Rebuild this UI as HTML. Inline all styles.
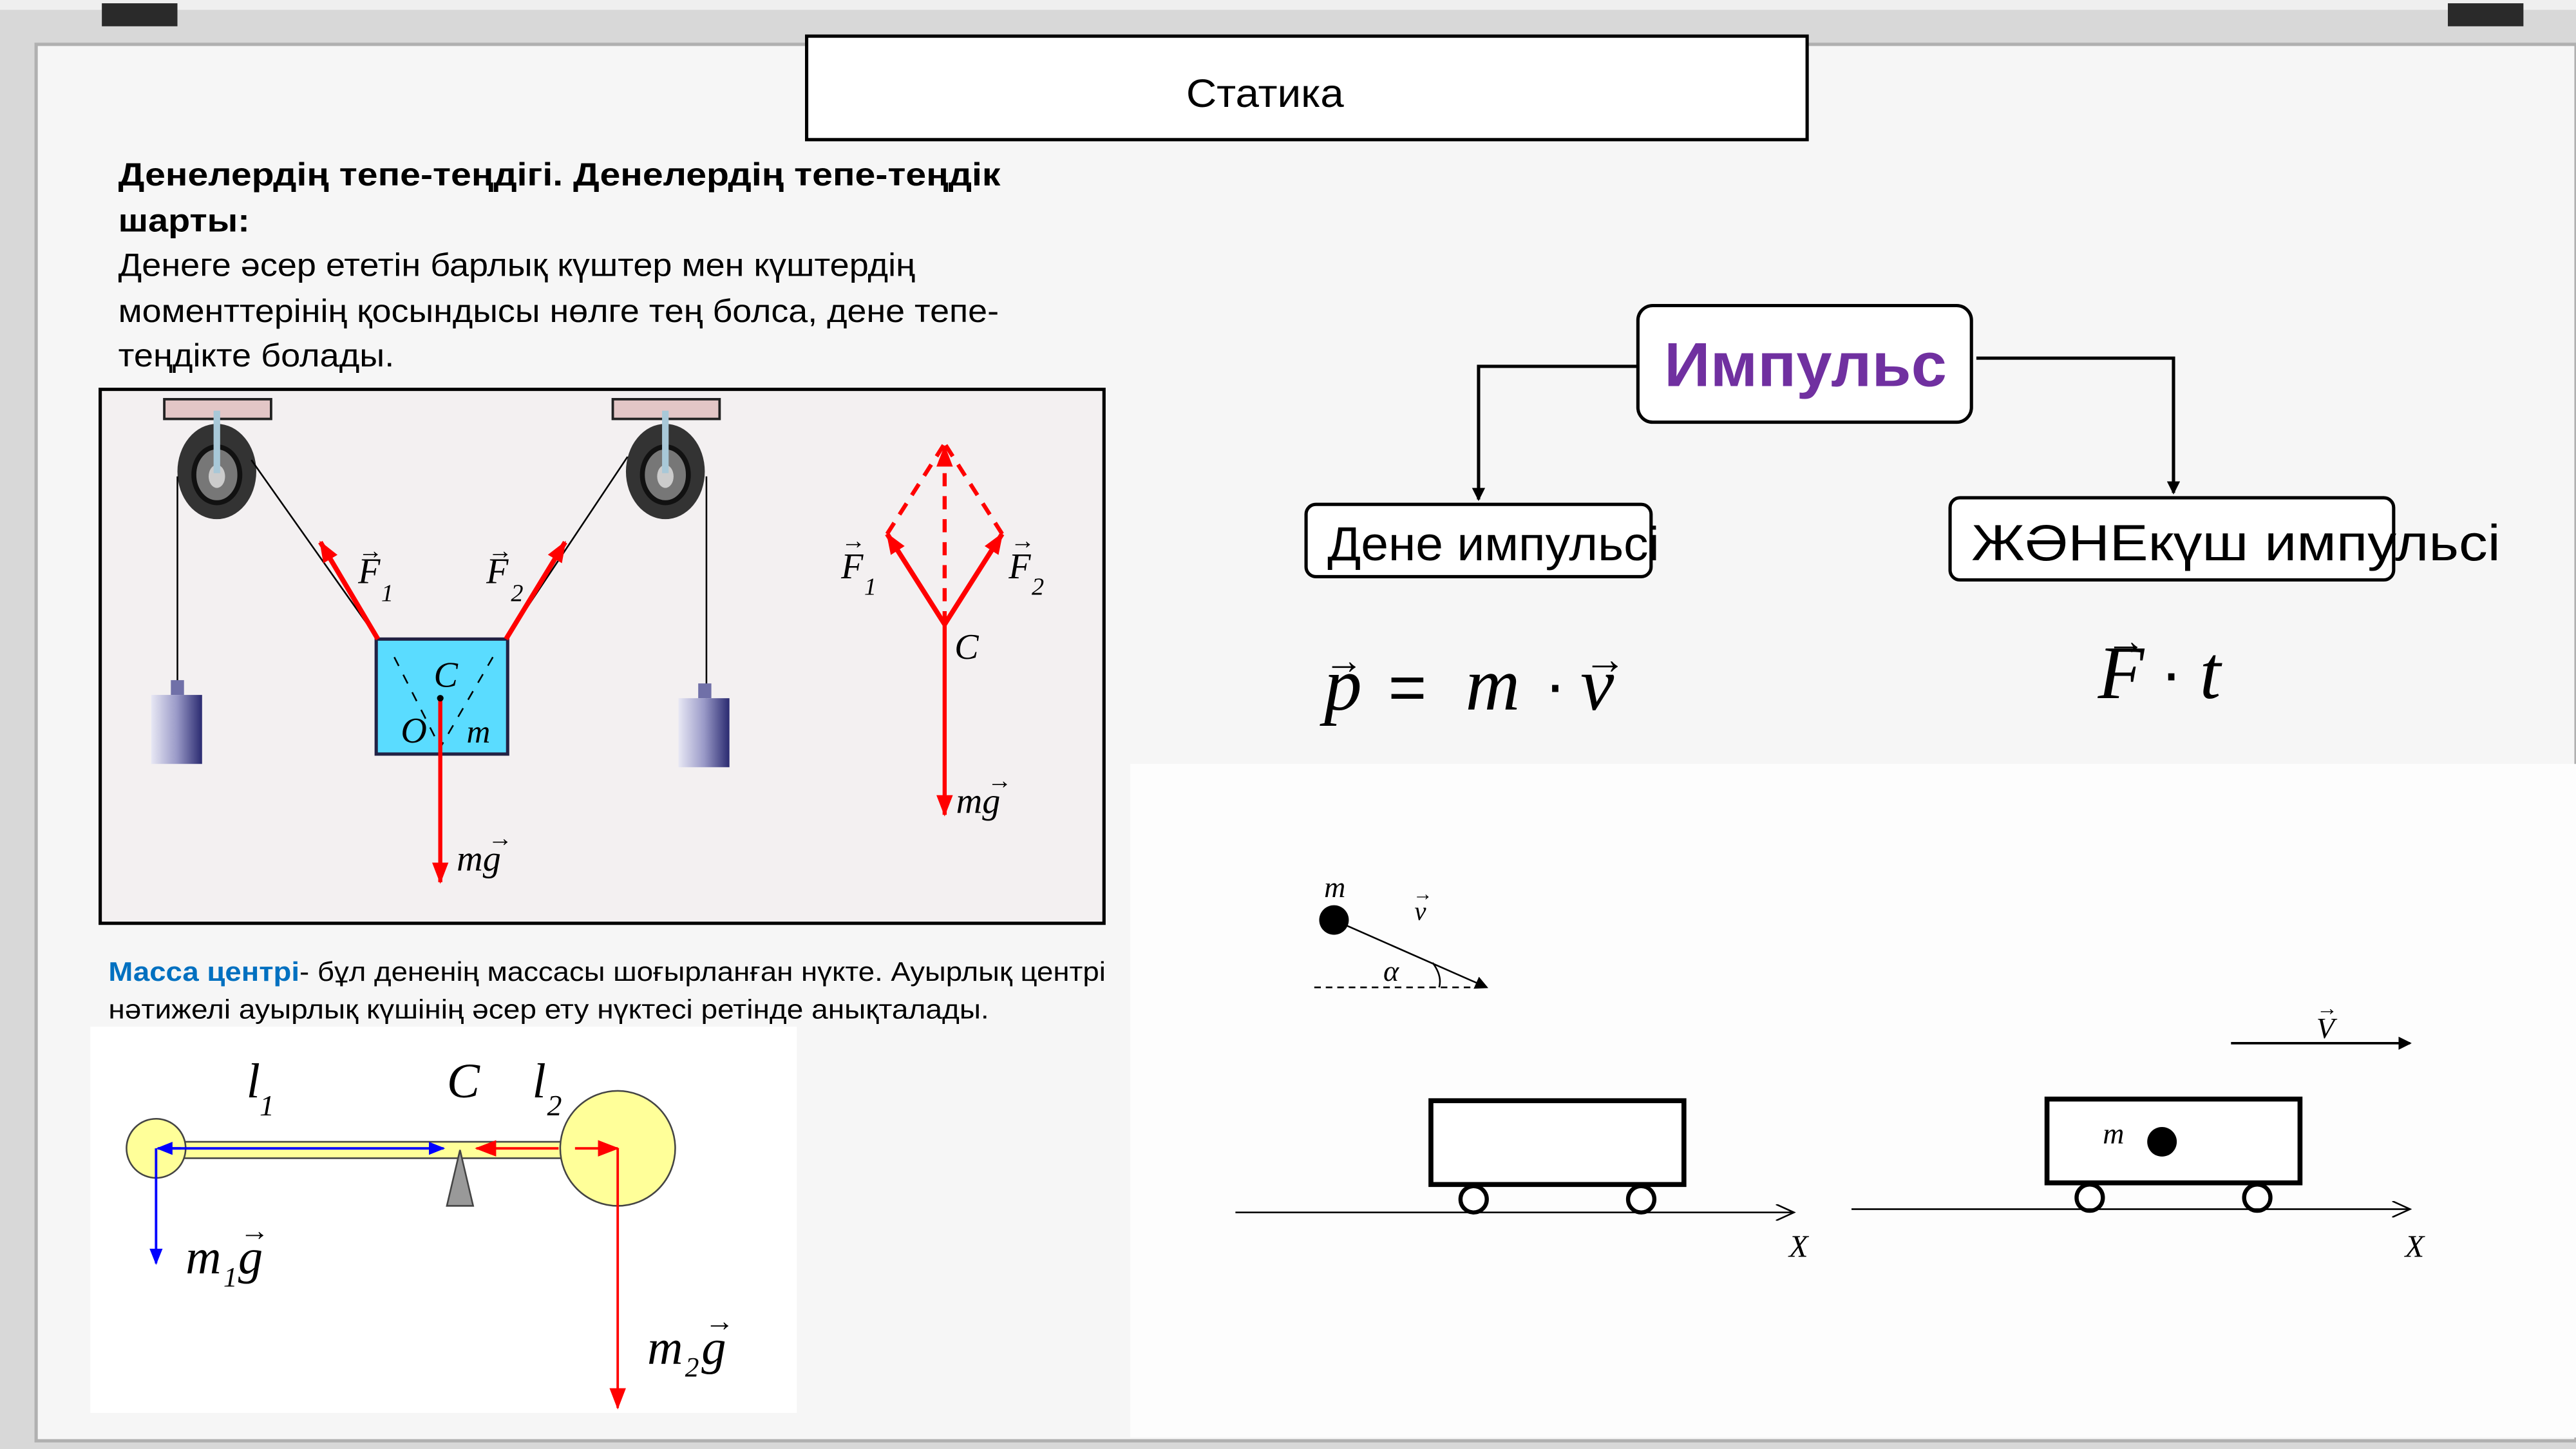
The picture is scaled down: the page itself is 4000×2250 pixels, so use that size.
<!DOCTYPE html>
<html><head><meta charset="utf-8">
<style>
html,body{margin:0;padding:0;background:#e6e6e6;}
svg{display:block;}
text{font-family:"Liberation Sans","DejaVu Sans",sans-serif;}
.it{font-family:"Liberation Serif","DejaVu Serif",serif;font-style:italic;}
</style></head><body>
<svg width="4000" height="2250" viewBox="0 0 1568 882" preserveAspectRatio="none" xmlns="http://www.w3.org/2000/svg">
<defs>
<marker id="ar" markerWidth="8" markerHeight="8" refX="7" refY="4" orient="auto" markerUnits="userSpaceOnUse"><path d="M0,0 L8,4 L0,8 z" fill="#000"/></marker>
<marker id="arr" markerWidth="14" markerHeight="14" refX="12" refY="7" orient="auto" markerUnits="userSpaceOnUse"><path d="M0,2 L13,7 L0,12 z" fill="#f00"/></marker>
<marker id="arb" markerWidth="10" markerHeight="10" refX="9" refY="5" orient="auto" markerUnits="userSpaceOnUse"><path d="M0,1 L10,5 L0,9 z" fill="#00f"/></marker>
<marker id="aro" markerWidth="12" markerHeight="10" refX="11" refY="5" orient="auto" markerUnits="userSpaceOnUse"><path d="M0,0 L11,5 L0,10" fill="none" stroke="#000" stroke-width="1"/></marker>
<linearGradient id="wt" x1="0" x2="1"><stop offset="0" stop-color="#e8e8f4"/><stop offset="0.5" stop-color="#9a9ac8"/><stop offset="1" stop-color="#2a2a70"/></linearGradient>
</defs>
<rect x="0" y="0" width="1568" height="882" fill="#d8d8d8"/>
<rect x="0" y="0" width="1568" height="6" fill="#efefef"/>
<rect x="62" y="2" width="46" height="14" fill="#2a2a2a"/>
<rect x="1490" y="2" width="46" height="14" fill="#2a2a2a"/>
<rect x="22" y="27" width="1546" height="850" fill="#f6f6f6" stroke="#b0b0b0" stroke-width="2"/>
<rect x="688" y="465" width="880" height="410" fill="#fdfdfd"/>
<rect x="55" y="625" width="430" height="235" fill="#ffffff"/>
<rect x="491" y="22" width="609" height="63" fill="#fff" stroke="#000" stroke-width="2"/>
<text x="722" y="65" font-size="24" textLength="96" lengthAdjust="spacingAndGlyphs">Статика</text>
<g font-size="19.5">
<text x="72" y="113" font-weight="bold" textLength="537" lengthAdjust="spacingAndGlyphs">Денелердің тепе-теңдігі. Денелердің тепе-теңдік</text>
<text x="72" y="141" font-weight="bold" textLength="80" lengthAdjust="spacingAndGlyphs">шарты:</text>
<text x="72" y="168" textLength="485" lengthAdjust="spacingAndGlyphs">Денеге әсер ететін барлық күштер мен күштердің</text>
<text x="72" y="196" textLength="536" lengthAdjust="spacingAndGlyphs">моменттерінің қосындысы нөлге тең болса, дене тепе-</text>
<text x="72" y="223" textLength="168" lengthAdjust="spacingAndGlyphs">теңдікте болады.</text>
</g>
<g>
<rect x="61" y="237" width="611" height="325" fill="#f3f0f1" stroke="#000" stroke-width="2"/>
<rect x="100" y="243" width="65" height="12" fill="#e3c6c6" stroke="#222" stroke-width="1.5"/>
<rect x="373" y="243" width="65" height="12" fill="#e3c6c6" stroke="#222" stroke-width="1.5"/>
<ellipse cx="132" cy="287" rx="24" ry="29" fill="#333"/><ellipse cx="132" cy="289" rx="14" ry="17" fill="#777" stroke="#111" stroke-width="3"/><ellipse cx="132" cy="290" rx="5" ry="7" fill="#ccc"/>
<rect x="130" y="250" width="4" height="38" fill="#a8c8d8"/>
<ellipse cx="405" cy="287" rx="24" ry="29" fill="#333"/><ellipse cx="405" cy="289" rx="14" ry="17" fill="#777" stroke="#111" stroke-width="3"/><ellipse cx="405" cy="290" rx="5" ry="7" fill="#ccc"/>
<rect x="403" y="250" width="4" height="38" fill="#a8c8d8"/>
<line x1="108" y1="290" x2="108" y2="422" stroke="#000" stroke-width="1"/>
<line x1="430" y1="290" x2="430" y2="425" stroke="#000" stroke-width="1"/>
<line x1="153" y1="280" x2="230" y2="389" stroke="#000" stroke-width="1"/>
<line x1="382" y1="278" x2="308" y2="389" stroke="#000" stroke-width="1"/>
<rect x="104" y="414" width="8" height="9" fill="#7070a8"/><rect x="92" y="423" width="31" height="42" fill="url(#wt)"/>
<rect x="425" y="416" width="8" height="9" fill="#7070a8"/><rect x="413" y="425" width="31" height="42" fill="url(#wt)"/>
<rect x="229" y="389" width="80" height="70" fill="#5adcff" stroke="#224" stroke-width="2"/>
<line x1="240" y1="400" x2="268" y2="455" stroke="#000" stroke-dasharray="6,6"/>
<line x1="300" y1="400" x2="268" y2="455" stroke="#000" stroke-dasharray="6,6"/>
<line x1="230" y1="389" x2="195" y2="330" stroke="#f00" stroke-width="3" marker-end="url(#arr)"/>
<line x1="308" y1="389" x2="344" y2="330" stroke="#f00" stroke-width="3" marker-end="url(#arr)"/>
<line x1="268" y1="425" x2="268" y2="537" stroke="#f00" stroke-width="2.5" marker-end="url(#arr)"/>
<circle cx="268" cy="425" r="2" fill="#000"/>
<text class="it" x="218" y="355" font-size="22">F</text><text class="it" x="232" y="366" font-size="15">1</text><text x="218" y="340" font-size="15">→</text>
<text class="it" x="296" y="355" font-size="22">F</text><text class="it" x="311" y="366" font-size="15">2</text><text x="297" y="340" font-size="15">→</text>
<text class="it" x="264" y="418" font-size="22">C</text>
<text class="it" x="244" y="452" font-size="22">O</text>
<text class="it" x="284" y="452" font-size="20">m</text>
<text class="it" x="278" y="530" font-size="22">mg</text><text x="297" y="515" font-size="15">→</text>
<line x1="575" y1="380" x2="540" y2="325" stroke="#f00" stroke-width="3" marker-end="url(#arr)"/>
<line x1="575" y1="380" x2="610" y2="325" stroke="#f00" stroke-width="3" marker-end="url(#arr)"/>
<line x1="540" y1="325" x2="575" y2="270" stroke="#f00" stroke-width="2.5" stroke-dasharray="8,6"/>
<line x1="610" y1="325" x2="575" y2="270" stroke="#f00" stroke-width="2.5" stroke-dasharray="8,6"/>
<line x1="575" y1="380" x2="575" y2="272" stroke="#f00" stroke-width="2.5" stroke-dasharray="8,6" marker-end="url(#arr)"/>
<line x1="575" y1="380" x2="575" y2="496" stroke="#f00" stroke-width="2.5" marker-end="url(#arr)"/>
<text class="it" x="512" y="352" font-size="22">F</text><text class="it" x="526" y="362" font-size="15">1</text><text x="512" y="334" font-size="15">→</text>
<text class="it" x="614" y="352" font-size="22">F</text><text class="it" x="628" y="362" font-size="15">2</text><text x="615" y="334" font-size="15">→</text>
<text class="it" x="581" y="401" font-size="22">C</text>
<text class="it" x="582" y="495" font-size="22">mg</text><text x="601" y="480" font-size="15">→</text>
</g>
<text x="66" y="597" font-size="16.5" textLength="607" lengthAdjust="spacingAndGlyphs"><tspan fill="#0070c0" font-weight="bold">Масса центрі</tspan>- бұл дененің массасы шоғырланған нүкте. Ауырлық центрі</text>
<text x="66" y="620" font-size="16.5" textLength="536" lengthAdjust="spacingAndGlyphs">нәтижелі ауырлық күшінің әсер ету нүктесі ретінде анықталады.</text>
<g>
<rect x="100" y="695" width="250" height="10" fill="#ffff99" stroke="#444" stroke-width="1"/>
<circle cx="95" cy="699" r="18" fill="#ffff99" stroke="#444"/>
<circle cx="376" cy="699" r="35" fill="#ffff99" stroke="#444"/>
<polygon points="280,700 272,734 288,734" fill="#999" stroke="#444"/>
<line x1="100" y1="699" x2="270" y2="699" stroke="#00f" stroke-width="1.5" marker-end="url(#arb)"/>
<line x1="110" y1="699" x2="96" y2="699" stroke="#00f" stroke-width="1.5" marker-end="url(#arb)"/>
<line x1="95" y1="699" x2="95" y2="769" stroke="#00f" stroke-width="1.5" marker-end="url(#arb)"/>
<line x1="340" y1="699" x2="290" y2="699" stroke="#f00" stroke-width="1.5" marker-end="url(#arr)"/>
<line x1="350" y1="699" x2="376" y2="699" stroke="#f00" stroke-width="1.5" marker-end="url(#arr)"/>
<line x1="376" y1="699" x2="376" y2="857" stroke="#f00" stroke-width="1.5" marker-end="url(#arr)"/>
<text class="it" x="150" y="668" font-size="30">l</text><text class="it" x="158" y="679" font-size="18">1</text>
<text class="it" x="272" y="668" font-size="30">C</text>
<text class="it" x="324" y="668" font-size="30">l</text><text class="it" x="333" y="679" font-size="18">2</text>
<text class="it" x="113" y="775" font-size="30">m</text><text class="it" x="136" y="783" font-size="17">1</text><text class="it" x="145" y="775" font-size="30">g</text><text x="146" y="755" font-size="18">→</text>
<text class="it" x="394" y="830" font-size="30">m</text><text class="it" x="417" y="838" font-size="17">2</text><text class="it" x="427" y="830" font-size="30">g</text><text x="429" y="810" font-size="18">→</text>
</g>
<g>
<rect x="997" y="186" width="203" height="71" rx="9" fill="#fff" stroke="#000" stroke-width="2"/>
<text x="1013" y="235" font-size="38" font-weight="bold" fill="#7030a0" textLength="172" lengthAdjust="spacingAndGlyphs">Импульс</text>
<polyline points="997,223 900,223 900,304" fill="none" stroke="#000" stroke-width="2" marker-end="url(#ar)"/>
<polyline points="1203,218 1323,218 1323,300" fill="none" stroke="#000" stroke-width="2" marker-end="url(#ar)"/>
<rect x="795" y="307" width="210" height="44" rx="6" fill="#fff" stroke="#000" stroke-width="2"/>
<text x="808" y="341" font-size="29" textLength="202" lengthAdjust="spacingAndGlyphs">Дене импульсі</text>
<rect x="1187" y="303" width="270" height="50" rx="6" fill="#fff" stroke="#000" stroke-width="2"/>
<text x="1200" y="341" font-size="31" textLength="322" lengthAdjust="spacingAndGlyphs">ЖӘНЕкүш импульсі</text>
<g>
<text class="it" x="806" y="432" font-size="46">p</text>
<text x="845" y="432" font-size="40">=</text>
<text class="it" x="892" y="432" font-size="46">m</text>
<text x="940" y="430" font-size="40">·</text>
<text class="it" x="962" y="432" font-size="46">v</text>
<text x="806" y="410" font-size="24">→</text><text x="964" y="410" font-size="26">→</text>
</g>
<g>
<text class="it" x="1277" y="425" font-size="46">F</text>
<text x="1315" y="423" font-size="40">·</text>
<text class="it" x="1339" y="425" font-size="46">t</text>
<text x="1282" y="398" font-size="24">→</text>
</g>
</g>
<g>
<circle cx="812" cy="560" r="9" fill="#000"/>
<line x1="812" y1="560" x2="905" y2="601" stroke="#000" stroke-width="1" marker-end="url(#ar)"/>
<line x1="800" y1="601" x2="905" y2="601" stroke="#000" stroke-width="1" stroke-dasharray="4,3"/>
<path d="M872,586 Q878,594 876,601" fill="none" stroke="#000"/>
<text class="it" x="806" y="546" font-size="18">m</text>
<text class="it" x="861" y="560" font-size="16">v</text><text x="860" y="548" font-size="12">→</text>
<text class="it" x="842" y="597" font-size="18">α</text>
</g>
<g>
<rect x="871" y="670" width="154" height="51" fill="#fff" stroke="#000" stroke-width="3"/>
<circle cx="897" cy="730" r="8" fill="#fff" stroke="#000" stroke-width="2.5"/>
<circle cx="999" cy="730" r="8" fill="#fff" stroke="#000" stroke-width="2.5"/>
<line x1="752" y1="738" x2="1092" y2="738" stroke="#000" stroke-width="1" marker-end="url(#aro)"/>
<text class="it" x="1089" y="765" font-size="19">X</text>
</g>
<g>
<rect x="1246" y="669" width="154" height="51" fill="#fff" stroke="#000" stroke-width="3"/>
<circle cx="1316" cy="695" r="9" fill="#000"/>
<text class="it" x="1280" y="696" font-size="18">m</text>
<circle cx="1272" cy="729" r="8" fill="#fff" stroke="#000" stroke-width="2.5"/>
<circle cx="1374" cy="729" r="8" fill="#fff" stroke="#000" stroke-width="2.5"/>
<line x1="1127" y1="736" x2="1467" y2="736" stroke="#000" stroke-width="1" marker-end="url(#aro)"/>
<text class="it" x="1464" y="765" font-size="19">X</text>
<line x1="1358" y1="635" x2="1467" y2="635" stroke="#000" stroke-width="1.5" marker-end="url(#ar)"/>
<text class="it" x="1410" y="632" font-size="18">V</text><text x="1410" y="618" font-size="13">→</text>
</g>
</svg>
</body></html>
